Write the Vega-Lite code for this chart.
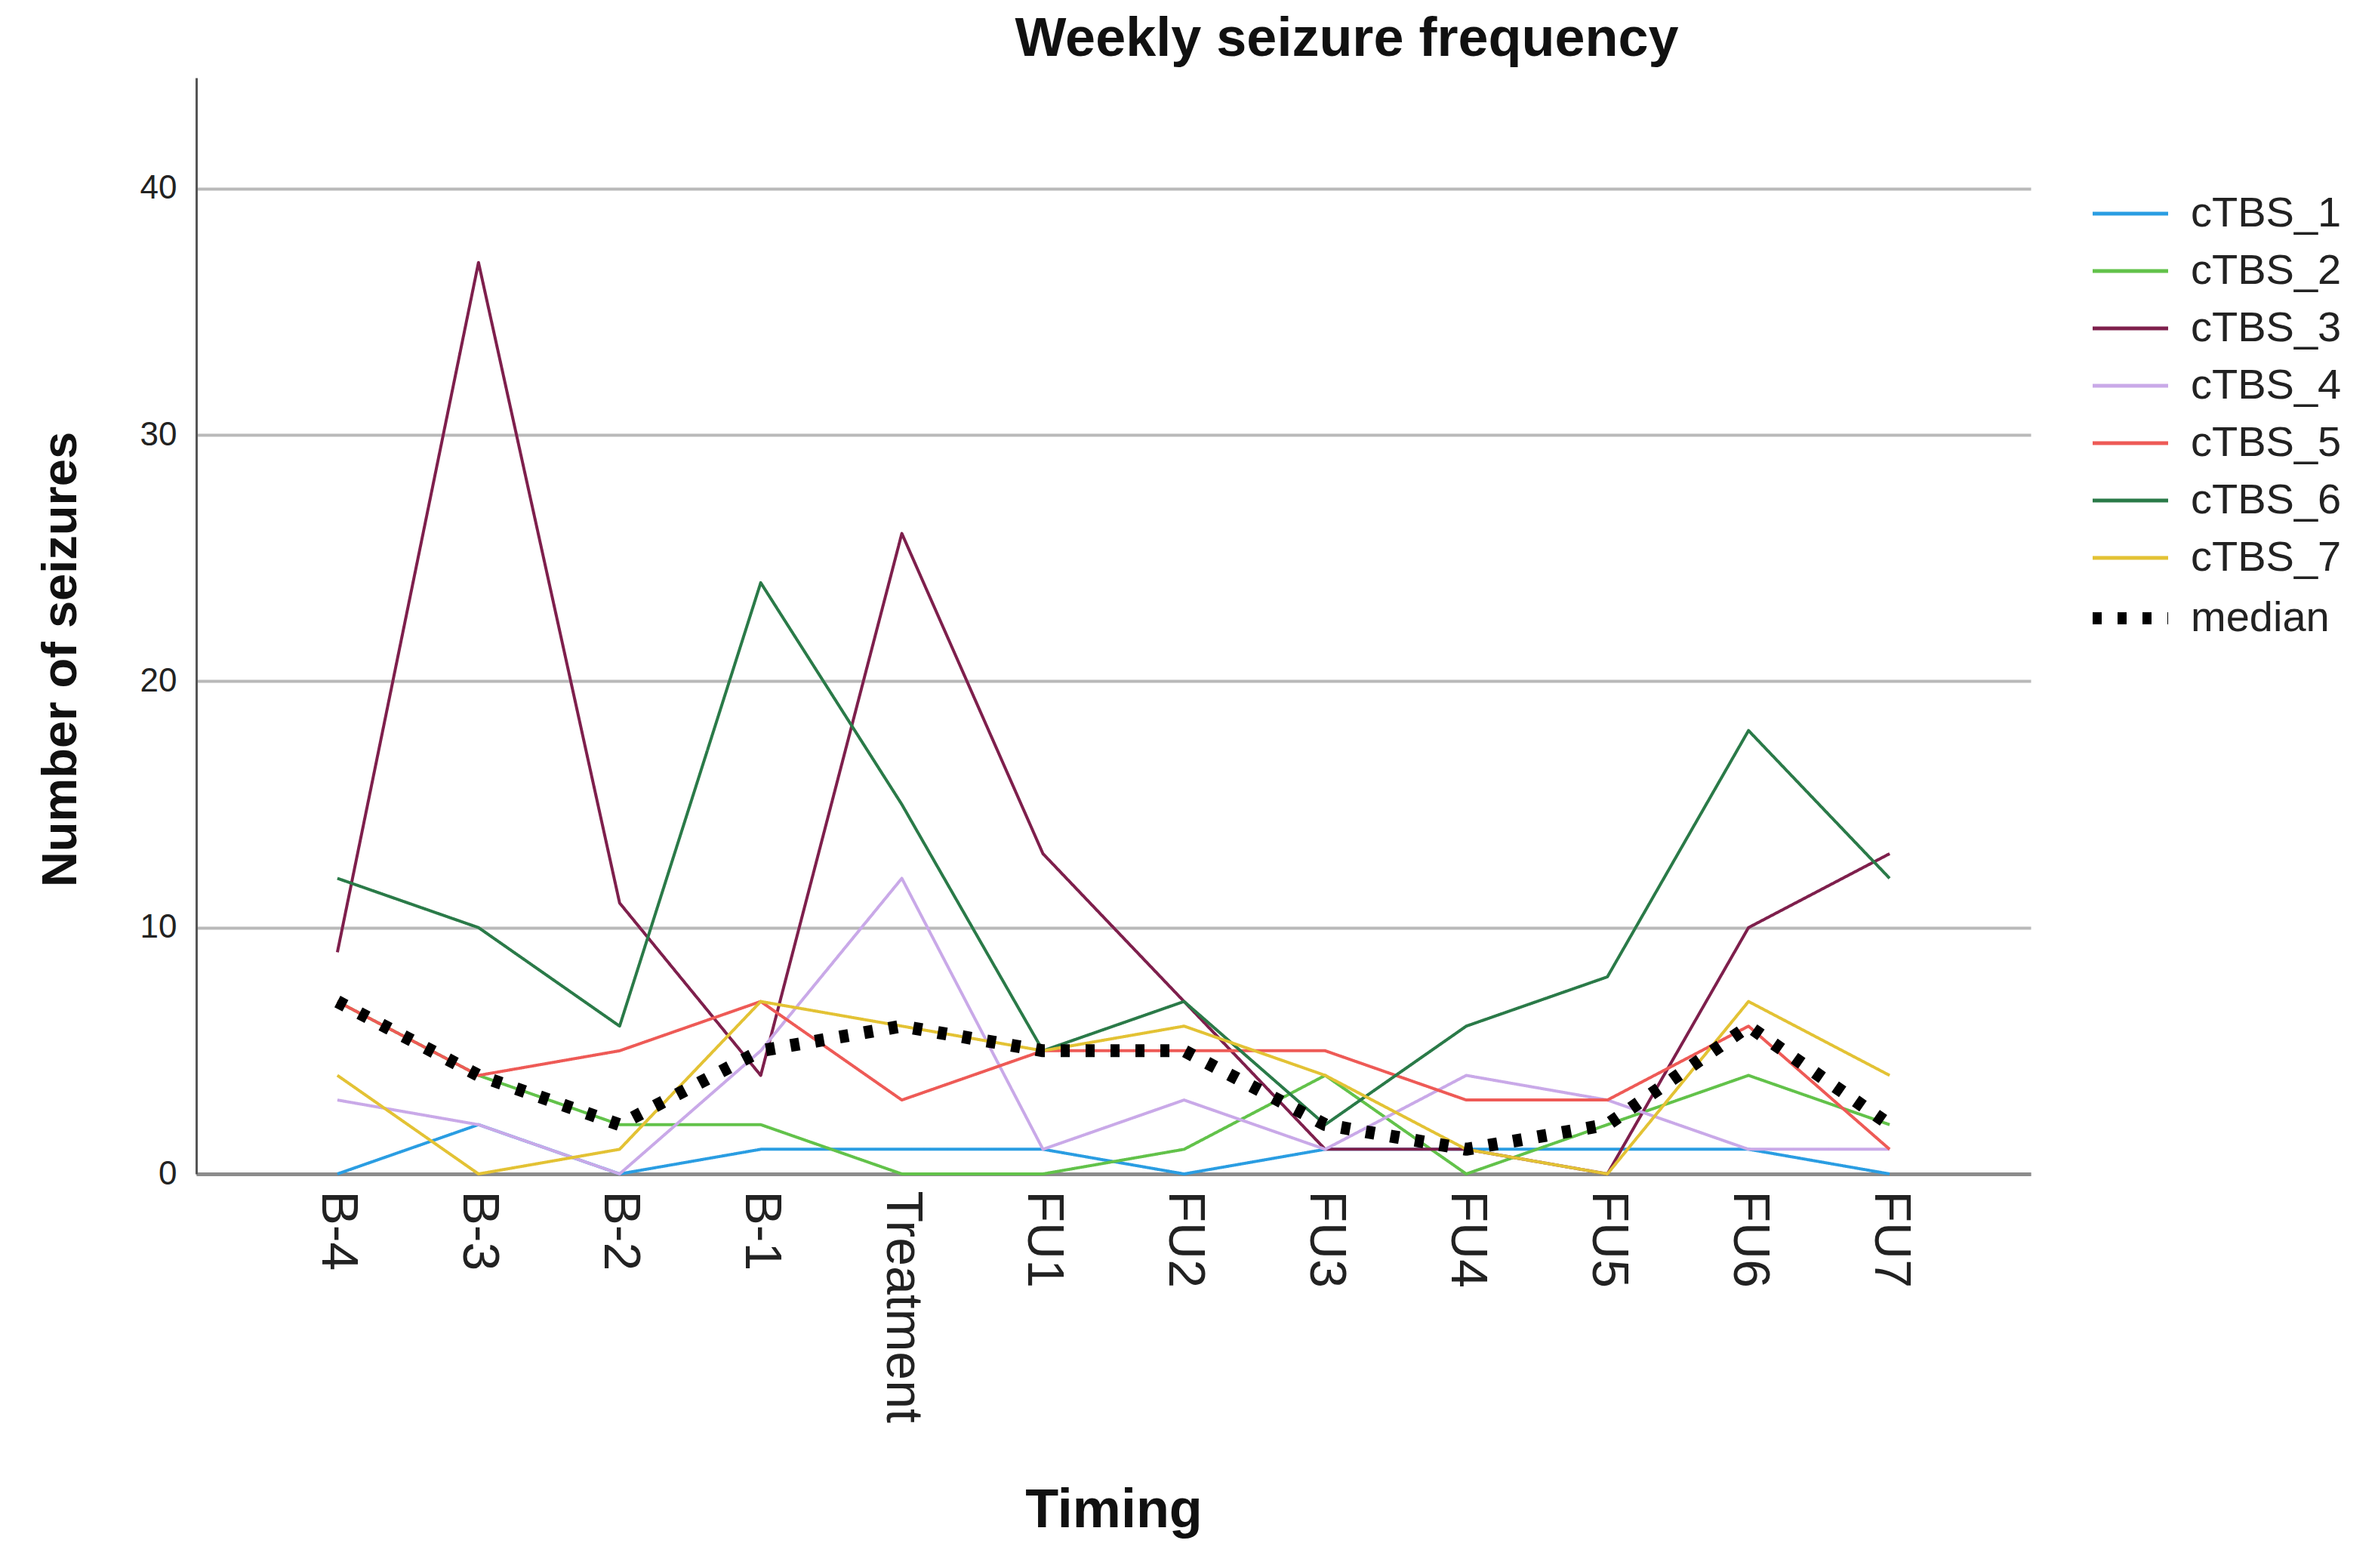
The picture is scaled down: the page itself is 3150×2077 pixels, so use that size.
{
  "$schema": "https://vega.github.io/schema/vega-lite/v6.json",
  "autosize": "none",
  "width": 2430,
  "height": 1452,
  "padding": {"left": 260, "top": 103, "right": 460, "bottom": 522},
  "background": "white",
  "title": {
    "text": "Weekly seizure frequency",
    "font": "Liberation Sans",
    "fontSize": 72,
    "fontWeight": "bold",
    "color": "#111111",
    "anchor": "middle",
    "dx": 309,
    "offset": 0,
    "dy": -14
  },
  "data": {
    "values": [
      {"timing": "B-4", "series": "cTBS_1", "seizures": 0},
      {"timing": "B-3", "series": "cTBS_1", "seizures": 2},
      {"timing": "B-2", "series": "cTBS_1", "seizures": 0},
      {"timing": "B-1", "series": "cTBS_1", "seizures": 1},
      {"timing": "Treatment", "series": "cTBS_1", "seizures": 1},
      {"timing": "FU1", "series": "cTBS_1", "seizures": 1},
      {"timing": "FU2", "series": "cTBS_1", "seizures": 0},
      {"timing": "FU3", "series": "cTBS_1", "seizures": 1},
      {"timing": "FU4", "series": "cTBS_1", "seizures": 1},
      {"timing": "FU5", "series": "cTBS_1", "seizures": 1},
      {"timing": "FU6", "series": "cTBS_1", "seizures": 1},
      {"timing": "FU7", "series": "cTBS_1", "seizures": 0},
      {"timing": "B-4", "series": "cTBS_2", "seizures": 7},
      {"timing": "B-3", "series": "cTBS_2", "seizures": 4},
      {"timing": "B-2", "series": "cTBS_2", "seizures": 2},
      {"timing": "B-1", "series": "cTBS_2", "seizures": 2},
      {"timing": "Treatment", "series": "cTBS_2", "seizures": 0},
      {"timing": "FU1", "series": "cTBS_2", "seizures": 0},
      {"timing": "FU2", "series": "cTBS_2", "seizures": 1},
      {"timing": "FU3", "series": "cTBS_2", "seizures": 4},
      {"timing": "FU4", "series": "cTBS_2", "seizures": 0},
      {"timing": "FU5", "series": "cTBS_2", "seizures": 2},
      {"timing": "FU6", "series": "cTBS_2", "seizures": 4},
      {"timing": "FU7", "series": "cTBS_2", "seizures": 2},
      {"timing": "B-4", "series": "cTBS_3", "seizures": 9},
      {"timing": "B-3", "series": "cTBS_3", "seizures": 37},
      {"timing": "B-2", "series": "cTBS_3", "seizures": 11},
      {"timing": "B-1", "series": "cTBS_3", "seizures": 4},
      {"timing": "Treatment", "series": "cTBS_3", "seizures": 26},
      {"timing": "FU1", "series": "cTBS_3", "seizures": 13},
      {"timing": "FU2", "series": "cTBS_3", "seizures": 7},
      {"timing": "FU3", "series": "cTBS_3", "seizures": 1},
      {"timing": "FU4", "series": "cTBS_3", "seizures": 1},
      {"timing": "FU5", "series": "cTBS_3", "seizures": 0},
      {"timing": "FU6", "series": "cTBS_3", "seizures": 10},
      {"timing": "FU7", "series": "cTBS_3", "seizures": 13},
      {"timing": "B-4", "series": "cTBS_4", "seizures": 3},
      {"timing": "B-3", "series": "cTBS_4", "seizures": 2},
      {"timing": "B-2", "series": "cTBS_4", "seizures": 0},
      {"timing": "B-1", "series": "cTBS_4", "seizures": 5},
      {"timing": "Treatment", "series": "cTBS_4", "seizures": 12},
      {"timing": "FU1", "series": "cTBS_4", "seizures": 1},
      {"timing": "FU2", "series": "cTBS_4", "seizures": 3},
      {"timing": "FU3", "series": "cTBS_4", "seizures": 1},
      {"timing": "FU4", "series": "cTBS_4", "seizures": 4},
      {"timing": "FU5", "series": "cTBS_4", "seizures": 3},
      {"timing": "FU6", "series": "cTBS_4", "seizures": 1},
      {"timing": "FU7", "series": "cTBS_4", "seizures": 1},
      {"timing": "B-4", "series": "cTBS_5", "seizures": 7},
      {"timing": "B-3", "series": "cTBS_5", "seizures": 4},
      {"timing": "B-2", "series": "cTBS_5", "seizures": 5},
      {"timing": "B-1", "series": "cTBS_5", "seizures": 7},
      {"timing": "Treatment", "series": "cTBS_5", "seizures": 3},
      {"timing": "FU1", "series": "cTBS_5", "seizures": 5},
      {"timing": "FU2", "series": "cTBS_5", "seizures": 5},
      {"timing": "FU3", "series": "cTBS_5", "seizures": 5},
      {"timing": "FU4", "series": "cTBS_5", "seizures": 3},
      {"timing": "FU5", "series": "cTBS_5", "seizures": 3},
      {"timing": "FU6", "series": "cTBS_5", "seizures": 6},
      {"timing": "FU7", "series": "cTBS_5", "seizures": 1},
      {"timing": "B-4", "series": "cTBS_6", "seizures": 12},
      {"timing": "B-3", "series": "cTBS_6", "seizures": 10},
      {"timing": "B-2", "series": "cTBS_6", "seizures": 6},
      {"timing": "B-1", "series": "cTBS_6", "seizures": 24},
      {"timing": "Treatment", "series": "cTBS_6", "seizures": 15},
      {"timing": "FU1", "series": "cTBS_6", "seizures": 5},
      {"timing": "FU2", "series": "cTBS_6", "seizures": 7},
      {"timing": "FU3", "series": "cTBS_6", "seizures": 2},
      {"timing": "FU4", "series": "cTBS_6", "seizures": 6},
      {"timing": "FU5", "series": "cTBS_6", "seizures": 8},
      {"timing": "FU6", "series": "cTBS_6", "seizures": 18},
      {"timing": "FU7", "series": "cTBS_6", "seizures": 12},
      {"timing": "B-4", "series": "cTBS_7", "seizures": 4},
      {"timing": "B-3", "series": "cTBS_7", "seizures": 0},
      {"timing": "B-2", "series": "cTBS_7", "seizures": 1},
      {"timing": "B-1", "series": "cTBS_7", "seizures": 7},
      {"timing": "Treatment", "series": "cTBS_7", "seizures": 6},
      {"timing": "FU1", "series": "cTBS_7", "seizures": 5},
      {"timing": "FU2", "series": "cTBS_7", "seizures": 6},
      {"timing": "FU3", "series": "cTBS_7", "seizures": 4},
      {"timing": "FU4", "series": "cTBS_7", "seizures": 1},
      {"timing": "FU5", "series": "cTBS_7", "seizures": 0},
      {"timing": "FU6", "series": "cTBS_7", "seizures": 7},
      {"timing": "FU7", "series": "cTBS_7", "seizures": 4},
      {"timing": "B-4", "series": "median", "seizures": 7},
      {"timing": "B-3", "series": "median", "seizures": 4},
      {"timing": "B-2", "series": "median", "seizures": 2},
      {"timing": "B-1", "series": "median", "seizures": 5},
      {"timing": "Treatment", "series": "median", "seizures": 6},
      {"timing": "FU1", "series": "median", "seizures": 5},
      {"timing": "FU2", "series": "median", "seizures": 5},
      {"timing": "FU3", "series": "median", "seizures": 2},
      {"timing": "FU4", "series": "median", "seizures": 1},
      {"timing": "FU5", "series": "median", "seizures": 2},
      {"timing": "FU6", "series": "median", "seizures": 6},
      {"timing": "FU7", "series": "median", "seizures": 2}
    ]
  },
  "mark": {"type": "line", "strokeCap": "butt", "strokeJoin": "round"},
  "encoding": {
    "x": {
      "field": "timing",
      "type": "ordinal",
      "scale": {
        "type": "point",
        "padding": 1.1,
        "domain": ["B-4", "B-3", "B-2", "B-1", "Treatment", "FU1", "FU2", "FU3", "FU4", "FU5", "FU6", "FU7"]
      },
      "axis": {
        "title": "Timing",
        "titleFont": "Liberation Sans",
        "titleFontSize": 72,
        "titleFontWeight": "bold",
        "titleColor": "#111111",
        "titleBaseline": "middle",
        "titleY": 445,
        "labelAngle": 90,
        "labelAlign": "left",
        "labelBaseline": "middle",
        "labelFont": "Liberation Sans",
        "labelFontSize": 68,
        "labelColor": "#222222",
        "labelPadding": 22,
        "labelLimit": 1000,
        "ticks": false,
        "grid": false,
        "domainColor": "#8c8c8c",
        "domainWidth": 5
      }
    },
    "y": {
      "field": "seizures",
      "type": "quantitative",
      "scale": {"domain": [0, 44.5], "nice": false},
      "axis": {
        "title": "Number of seizures",
        "titleFont": "Liberation Sans",
        "titleFontSize": 65,
        "titleFontWeight": "bold",
        "titleColor": "#111111",
        "titleAngle": -90,
        "titleAlign": "center",
        "titleBaseline": "middle",
        "titleX": -180,
        "titleY": 770,
        "values": [0, 10, 20, 30, 40],
        "labelFont": "Liberation Sans",
        "labelFontSize": 44,
        "labelColor": "#222222",
        "labelPadding": 26,
        "ticks": false,
        "grid": true,
        "gridColor": "#b9b9b9",
        "gridWidth": 4,
        "domainColor": "#555555",
        "domainWidth": 3
      }
    },
    "color": {
      "field": "series",
      "type": "nominal",
      "scale": {
        "domain": ["cTBS_1", "cTBS_2", "cTBS_3", "cTBS_4", "cTBS_5", "cTBS_6", "cTBS_7", "median"],
        "range": ["#2a9de2", "#62c24a", "#7e1f4c", "#c9a9e8", "#ee5a56", "#2a7a48", "#e3c234", "#000000"]
      },
      "legend": {
        "title": null,
        "orient": "none",
        "legendX": 2534,
        "legendY": 152,
        "padding": 0,
        "symbolType": "stroke",
        "symbolSize": 10000,
        "labelFont": "Liberation Sans",
        "labelFontSize": 56,
        "labelColor": "#222222",
        "labelOffset": 52,
        "labelLimit": 1000,
        "rowPadding": 20,
        "encode": {
          "symbols": {
            "update": {
              "strokeWidth": {"signal": "datum.value === 'median' ? 16 : 5"}
            }
          }
        }
      }
    },
    "strokeDash": {
      "field": "series",
      "type": "nominal",
      "scale": {
        "domain": ["cTBS_1", "cTBS_2", "cTBS_3", "cTBS_4", "cTBS_5", "cTBS_6", "cTBS_7", "median"],
        "range": [[1, 0], [1, 0], [1, 0], [1, 0], [1, 0], [1, 0], [1, 0], [12, 21]]
      }
    },
    "strokeWidth": {
      "condition": {"test": "datum.series === 'median'", "value": 17},
      "value": 4
    }
  },
  "config": {
    "view": {"stroke": null}
  }
}
